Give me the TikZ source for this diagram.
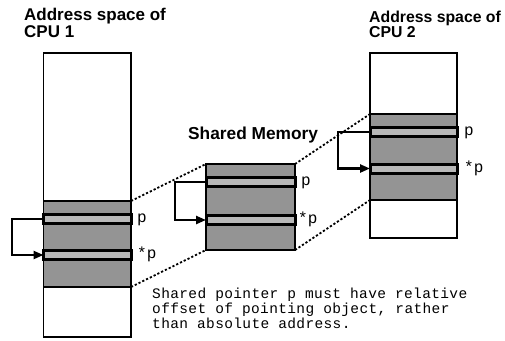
\documentclass[tikz,border=0pt]{standalone}
\usepackage{fontspec}
\setmainfont{Liberation Sans}
\newfontfamily\monof{Liberation Mono}
\newfontfamily\monosp[LetterSpace=2.5]{Liberation Mono}
\usetikzlibrary{arrows.meta}
\tikzset{
  titletext/.style={font=\bfseries\fontsize{17}{15}\selectfont, anchor=base west, inner sep=0pt, align=left},
  membox/.style={draw, line width=1.5pt, fill=white, inner sep=0pt, outer sep=0pt, anchor=north west},
  shaded/.style={draw, line width=1.2pt, fill=black!42, inner sep=0pt, outer sep=0pt, anchor=north west, minimum height=86pt},
  band/.style={draw, line width=3pt, fill=black!28, inner sep=0pt, outer sep=0pt, anchor=north west, minimum height=9pt},
  ptr/.style={line width=2.3pt, -{Triangle[length=10pt,width=8pt]}},
  dotline/.style={line width=1.8pt, dash pattern=on 2.2pt off 2pt},
  lbl/.style={font=\monof\fontsize{16}{16}\selectfont, inner sep=0pt, anchor=base west},
  note/.style={font=\monosp\fontsize{14.5}{12}\selectfont, inner sep=0pt, anchor=base west, align=left},
}
\begin{document}
\begin{tikzpicture}[x=1pt,y=-1pt]
\useasboundingbox[fill=white] (0,0) rectangle (505,340);
% titles
\node[titletext] (t1) at (24,37) {Address space of\\CPU 1};
\node[titletext, font=\bfseries\fontsize{15.8}{15}\selectfont] (t2) at (369,37) {Address space of\\CPU 2};
\node[titletext, font=\bfseries\fontsize{17.3}{15}\selectfont] (t3) at (188,139) {Shared Memory};
% CPU 1
\node[membox, minimum width=87.5pt, minimum height=284pt] (cpu1) at (43.5,53) {};
\node[shaded, minimum width=87.5pt] (sh1) at (43.5,201) {};
\node[band, minimum width=87.5pt] (p1) at (43.5,214.5) {};
\node[band, minimum width=87.5pt] (s1) at (43.5,250.5) {};
% Shared memory
\node[shaded, line width=1.5pt, minimum width=89pt] (shm) at (206,164) {};
\node[band, minimum width=89pt] (pm) at (206,177.5) {};
\node[band, minimum width=89pt] (sm) at (206,215.5) {};
% CPU 2
\node[membox, minimum width=87pt, minimum height=185pt] (cpu2) at (370,53) {};
\node[shaded, minimum width=87pt] (sh2) at (370,114) {};
\node[band, minimum width=87pt] (p2) at (370,127.5) {};
\node[band, minimum width=87pt] (s2) at (370,164) {};
% pointer arrows
\draw[ptr] (p1.west) -- ++(-31.5,0) |- (s1.west);
\draw[ptr] (pm.west) -- ++(-31,0) |- (sm.west);
\draw[ptr] (p2.west) -- ++(-32,0) |- (s2.west);
% mapping lines
\draw[dotline] (sh1.north east) -- (shm.north west);
\draw[dotline] (sh1.south east) -- (shm.south west);
\draw[dotline] (shm.north east) -- (sh2.north west);
\draw[dotline] (shm.south east) -- (sh2.south west);
% labels
\node[lbl] (lp1) at ([xshift=6pt,yshift=-3.5pt]p1.east) {p};
\node[lbl] (ls1) at ([xshift=6pt,yshift=-3.5pt]s1.east) {*p};
\node[lbl] (lpm) at ([xshift=6pt,yshift=-3.5pt]pm.east) {p};
\node[lbl] (lsm) at ([xshift=3pt,yshift=-3.5pt]sm.east) {*p};
\node[lbl] (lp2) at ([xshift=7pt,yshift=-3.5pt]p2.east) {p};
\node[lbl] (ls2) at ([xshift=7pt,yshift=-3.5pt]s2.east) {*p};
% note
\node[note] (nt) at (152,328) {Shared pointer p must have relative\\offset of pointing object, rather\\than absolute address.};
\end{tikzpicture}
\end{document}
